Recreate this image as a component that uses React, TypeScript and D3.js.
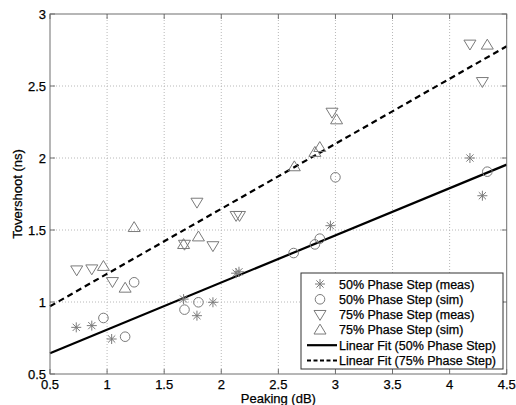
import React from "react";
import * as d3 from "d3";

const W = 516;
const H = 405;

const xTicks = [0.5, 1, 1.5, 2, 2.5, 3, 3.5, 4, 4.5];
const yTicks = [0.5, 1, 1.5, 2, 2.5, 3];

const meas50X = [0.73, 0.866, 1.04, 1.67, 1.787, 1.927, 2.13, 2.155, 2.956, 4.178, 4.287];
const meas50Y = [0.824, 0.836, 0.743, 1.02, 0.905, 0.998, 1.2, 1.21, 1.53, 2.0, 1.738];

const sim50X = [0.968, 1.158, 1.237, 1.678, 1.8, 2.634, 2.82, 2.863, 3.0, 4.33];
const sim50Y = [0.889, 0.759, 1.137, 0.947, 0.998, 1.34, 1.4, 1.44, 1.866, 1.905];

const meas75X = [0.734, 0.866, 1.047, 1.678, 1.787, 1.927, 2.13, 2.16, 2.97, 4.178, 4.287];
const meas75Y = [1.222, 1.229, 1.141, 1.4, 1.692, 1.39, 1.6, 1.6, 2.317, 2.79, 2.53];

const sim75X = [0.968, 1.158, 1.237, 1.67, 1.8, 2.64, 2.82, 2.863, 3.01, 4.33];
const sim75Y = [1.248, 1.097, 1.518, 1.4, 1.453, 1.94, 2.04, 2.074, 2.266, 2.785];

const fitX = [0.5, 4.5];
const fit50Y = [0.644, 1.954];
const fit75Y = [0.97, 2.776];

const legendLabels = [
  "50% Phase Step (meas)",
  "50% Phase Step (sim)",
  "75% Phase Step (meas)",
  "75% Phase Step (sim)",
  "Linear Fit (50% Phase Step)",
  "Linear Fit (75% Phase Step)",
];

const FONT = "'Liberation Sans', Arial, Helvetica, sans-serif";
const MK = "#7a7a7a";

function Star({ x, y }: { x: number; y: number }) {
  const r = 5;
  const d = r * 0.72;
  return (
    <g stroke={MK} strokeWidth={1} fill="none">
      <line x1={x - r} y1={y} x2={x + r} y2={y} />
      <line x1={x} y1={y - r} x2={x} y2={y + r} />
      <line x1={x - d} y1={y - d} x2={x + d} y2={y + d} />
      <line x1={x - d} y1={y + d} x2={x + d} y2={y - d} />
    </g>
  );
}

function Circ({ x, y }: { x: number; y: number }) {
  return <circle cx={x} cy={y} r={4.8} fill="none" stroke={MK} strokeWidth={1} />;
}

function TriDown({ x, y }: { x: number; y: number }) {
  const w = 6, h = 5.5;
  return (
    <path
      d={`M${x - w},${y - h * 0.75}L${x + w},${y - h * 0.75}L${x},${y + h * 1.05}Z`}
      fill="none"
      stroke={MK}
      strokeWidth={1}
    />
  );
}

function TriUp({ x, y }: { x: number; y: number }) {
  const w = 6, h = 5.5;
  return (
    <path
      d={`M${x - w},${y + h * 0.75}L${x + w},${y + h * 0.75}L${x},${y - h * 1.05}Z`}
      fill="none"
      stroke={MK}
      strokeWidth={1}
    />
  );
}

export default function App() {
  const left = 50, right = 506.7, top = 14, bottom = 374;
  const x = d3.scaleLinear().domain([0.5, 4.5]).range([left, right]);
  const y = d3.scaleLinear().domain([0.5, 3]).range([bottom, top]);
  const line = d3
    .line<number>()
    .x((_, i) => x(fitX[i]))
    .y((d) => y(d));

  const tl = 5;
  const axisColor = "#6e6e6e";

  const lgX = 301, lgY = 273, lgW = 202, lgH = 96;
  const rowH = 15.3;
  const textStroke = { stroke: "#000", strokeWidth: 0.25 };

  return (
    <svg
      width={W}
      height={H}
      style={{ position: "absolute", left: 0, top: 0, background: "#fff" }}
      fontFamily={FONT}
    >
      <rect x={0} y={0} width={W} height={H} fill="#fff" />
      {/* grid */}
      <g stroke="#b8b8b8" strokeWidth={1} strokeDasharray="1,2">
        {xTicks.slice(1, -1).map((t) => (
          <line key={"gx" + t} x1={x(t)} x2={x(t)} y1={top} y2={bottom} />
        ))}
        {yTicks.slice(1, -1).map((t) => (
          <line key={"gy" + t} x1={left} x2={right} y1={y(t)} y2={y(t)} />
        ))}
      </g>
      {/* fits */}
      <path d={line(fit50Y) || ""} fill="none" stroke="#000" strokeWidth={2.2} />
      <path
        d={line(fit75Y) || ""}
        fill="none"
        stroke="#000"
        strokeWidth={2.2}
        strokeDasharray="6,4"
      />
      {/* markers */}
      {meas50X.map((v, i) => (
        <Star key={"m50" + i} x={x(v)} y={y(meas50Y[i])} />
      ))}
      {sim50X.map((v, i) => (
        <Circ key={"s50" + i} x={x(v)} y={y(sim50Y[i])} />
      ))}
      {meas75X.map((v, i) => (
        <TriDown key={"m75" + i} x={x(v)} y={y(meas75Y[i])} />
      ))}
      {sim75X.map((v, i) => (
        <TriUp key={"s75" + i} x={x(v)} y={y(sim75Y[i])} />
      ))}
      {/* axes box */}
      <rect
        x={left}
        y={top}
        width={right - left}
        height={bottom - top}
        fill="none"
        stroke={axisColor}
        strokeWidth={1}
      />
      <g stroke={axisColor} strokeWidth={1}>
        {xTicks.map((t) => (
          <g key={"tx" + t}>
            <line x1={x(t)} x2={x(t)} y1={bottom} y2={bottom - tl} />
            <line x1={x(t)} x2={x(t)} y1={top} y2={top + tl} />
          </g>
        ))}
        {yTicks.map((t) => (
          <g key={"ty" + t}>
            <line x1={left} x2={left + tl} y1={y(t)} y2={y(t)} />
            <line x1={right} x2={right - tl} y1={y(t)} y2={y(t)} />
          </g>
        ))}
      </g>
      {/* tick labels */}
      <g fontSize={13} fill="#000" {...textStroke}>
        {xTicks.map((t) => (
          <text key={"lx" + t} x={x(t)} y={bottom + 15} textAnchor="middle">
            {String(t)}
          </text>
        ))}
        {yTicks.map((t) => (
          <text key={"ly" + t} x={left - 4} y={y(t) + 4.5} textAnchor="end">
            {String(t)}
          </text>
        ))}
      </g>
      {/* axis labels */}
      <text x={(left + right) / 2} y={403} textAnchor="middle" fontSize={13} fill="#000" {...textStroke}>
        Peaking (dB)
      </text>
      <text
        transform={`translate(22,${(top + bottom) / 2}) rotate(-90)`}
        textAnchor="middle"
        fontSize={13}
        fill="#000"
        {...textStroke}
      >
        Tovershoot (ns)
      </text>
      {/* legend */}
      <rect x={lgX} y={lgY} width={lgW} height={lgH} fill="#fff" stroke="#333" strokeWidth={1} />
      {legendLabels.map((lab, i) => {
        const cy = lgY + 11 + i * rowH;
        const mx = 320;
        let mark: React.ReactNode = null;
        if (i === 0) mark = <Star x={mx} y={cy} />;
        else if (i === 1) mark = <Circ x={mx} y={cy} />;
        else if (i === 2) mark = <TriDown x={mx} y={cy} />;
        else if (i === 3) mark = <TriUp x={mx} y={cy} />;
        else
          mark = (
            <line
              x1={307}
              x2={337}
              y1={cy}
              y2={cy}
              stroke="#000"
              strokeWidth={i === 4 ? 2.2 : 1.8}
              strokeDasharray={i === 5 ? "4,2.5" : undefined}
            />
          );
        return (
          <g key={"lg" + i}>
            {mark}
            <text x={339} y={cy + 4.5} fontSize={12.5} fill="#000" {...textStroke}>
              {lab}
            </text>
          </g>
        );
      })}
    </svg>
  );
}
